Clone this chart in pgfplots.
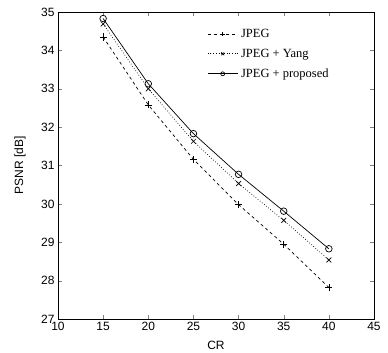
\documentclass[border=0pt]{standalone}
\usepackage{fontspec}
\setmainfont{Liberation Sans}
\newfontfamily\seriffont{Liberation Serif}
\usepackage{pgfplots}
\pgfplotsset{compat=1.18}
\begin{document}
\begin{tikzpicture}
\begin{axis}[
  at={(0,0)}, anchor=south west,
  scale only axis,
  width=316pt, height=307pt,
  xmin=10, xmax=45, ymin=27, ymax=35,
  xtick={10,15,...,45}, ytick={27,28,...,35},
  tick align=inside,
  major tick length=4pt,
  /pgf/number format/assume math mode=true,
  tick label style={font=\fontsize{12}{14}\selectfont},
  label style={font=\fontsize{12}{14}\selectfont},
  xlabel={CR}, ylabel={PSNR [dB]},
  xlabel style={at={(axis description cs:0.5,-0.085)}, anchor=center},
  ylabel style={at={(axis description cs:-0.12,0.5)}, anchor=center, rotate=0},
  axis line style={line width=0.9pt},
  legend style={draw=none, fill=none, at={(0.472,0.948)}, anchor=north west,
    inner sep=0pt,
    font=\seriffont\fontsize{12.5}{14}\selectfont, row sep=8pt,
    nodes={inner xsep=3pt, inner ysep=1pt}},
  legend cell align=left,
  legend image code/.code={\draw[mark repeat=2,mark phase=2,mark size=2pt]
    plot coordinates {(0pt,0pt) (15pt,0pt) (30pt,0pt)};},
]
\addplot[black, dashed, line width=0.7pt, mark=+, mark size=3.6pt, mark options={solid}] coordinates {
(15,34.35) (20,32.58) (25,31.16) (30,29.98) (35,28.95) (40,27.82)};
\addlegendentry{JPEG}
\addplot[black, dotted, line width=0.7pt, mark=x, mark size=3.4pt, mark options={solid}] coordinates {
(15,34.69) (20,33.0) (25,31.63) (30,30.53) (35,29.57) (40,28.54)};
\addlegendentry{JPEG + Yang}
\addplot[black, line width=0.7pt, mark=o, mark size=3.3pt] coordinates {
(15,34.83) (20,33.13) (25,31.83) (30,30.77) (35,29.81) (40,28.83)};
\addlegendentry{JPEG + proposed}
\end{axis}
\path[use as bounding box] (-58pt,-34pt) rectangle (330pt,319pt);
\end{tikzpicture}
\end{document}
